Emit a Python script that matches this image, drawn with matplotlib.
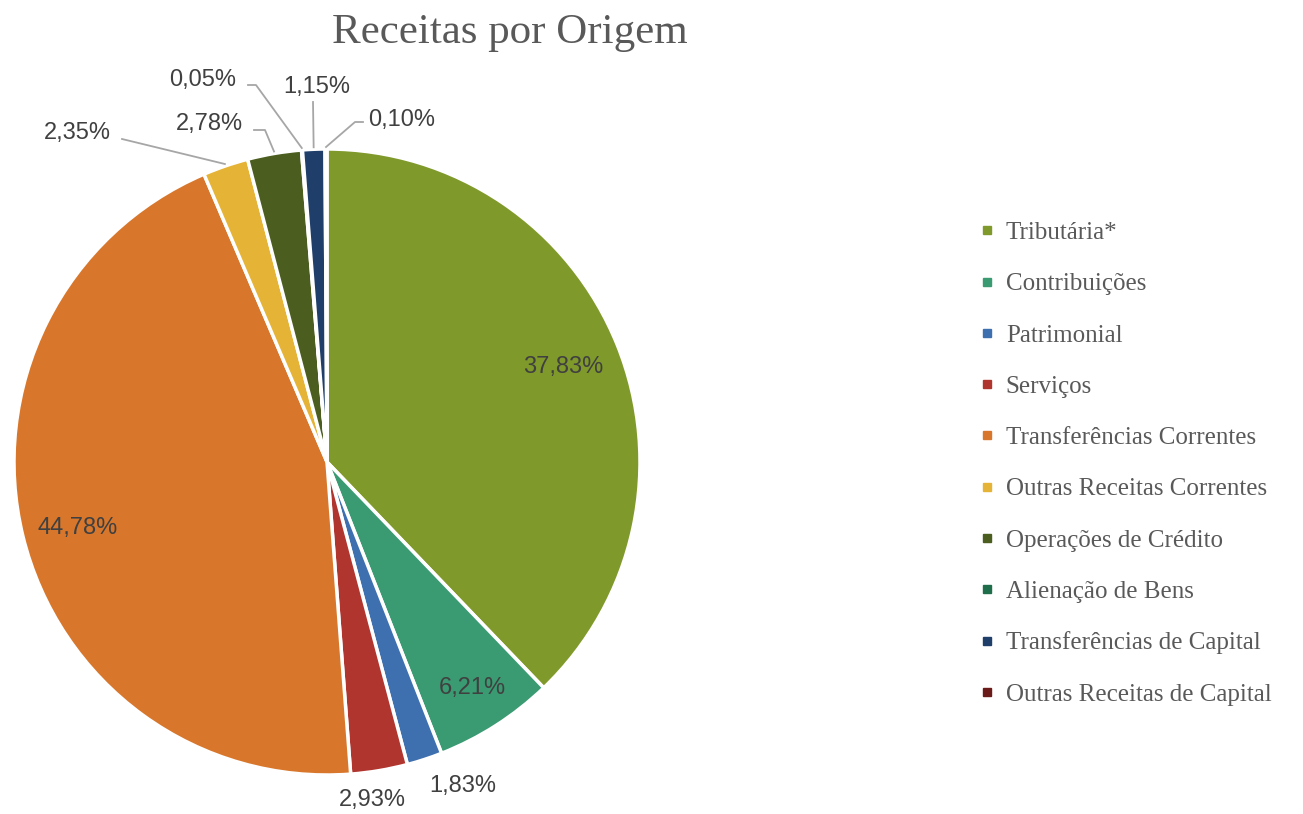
import numpy as np
import matplotlib.pyplot as plt
from matplotlib.lines import Line2D

# Receitas por origem (%)
categorias = ["Tributária*", "Contribuições", "Patrimonial", "Serviços",
              "Transferências Correntes", "Outras Receitas Correntes",
              "Operações de Crédito", "Alienação de Bens",
              "Transferências de Capital", "Outras Receitas de Capital"]
valores = [37.83, 6.21, 1.83, 2.93, 44.78, 2.35, 2.78, 0.05, 1.15, 0.10]
cores = ["#7f9a2b", "#3a9a72", "#3e6fae", "#b0352f", "#d8772b",
         "#e5b436", "#4b5e1f", "#1f6e4b", "#1f3f6a", "#6b1a1a"]

W, H = 1303, 814
fig = plt.figure(figsize=(W / 100, H / 100), dpi=100)
ax = fig.add_axes([0, 0, 1, 1])

cx, cy, r = 327, H - 462, 313
wedges, _ = ax.pie(valores, colors=cores, startangle=90, counterclock=False,
                   center=(cx, cy), radius=r,
                   wedgeprops=dict(edgecolor="white", linewidth=2.5))
ax.set_xlim(0, W)
ax.set_ylim(0, H)
ax.set_aspect("equal")
ax.axis("off")

# label placement (pixel coords from top-left), optional elbow for leader line
label_pos = [(563, 367), (472, 688), (463, 786), (372, 800), (78, 528),
             (77, 133), (209, 124), (203, 80), (317, 87), (402, 120)]
leader = [None, None, None, None, None,
          [(122, 139)], [(254, 130), (265, 130)], [(248, 85), (256, 85)],
          [(313, 102)], [(363, 122), (355, 122)]]

txt_kw = dict(fontsize=17, color="#404040", family="Liberation Sans",
              ha="center", va="center")
for w, v, (lx, ly), ld in zip(wedges, valores, label_pos, leader):
    ax.text(lx, H - ly, f"{v:.2f}%".replace(".", ","), **txt_kw)
    if ld:
        ang = np.deg2rad((w.theta1 + w.theta2) / 2)
        ex = cx + (r + 2) * np.cos(ang)
        ey = cy + (r + 2) * np.sin(ang)
        xs = [p[0] for p in ld] + [ex]
        ys = [H - p[1] for p in ld] + [ey]
        ax.plot(xs, ys, color="#a6a6a6", lw=1.3)

ax.text(510, H - 33, "Receitas por Origem", fontsize=31, color="#595959",
        family="Liberation Serif", ha="center", va="center")

handles = [Line2D([], [], marker="s", ls="", markersize=6, color=c)
           for c in cores]
fig.legend(handles, categorias, loc="upper left",
           bbox_to_anchor=(957 / W, 1 - 199 / H), frameon=False,
           prop=dict(family="Liberation Serif", size=18),
           labelcolor="#595959", handlelength=0.6, handletextpad=0.45,
           labelspacing=1.15)

fig.savefig("out.png", dpi=100, facecolor="white")
